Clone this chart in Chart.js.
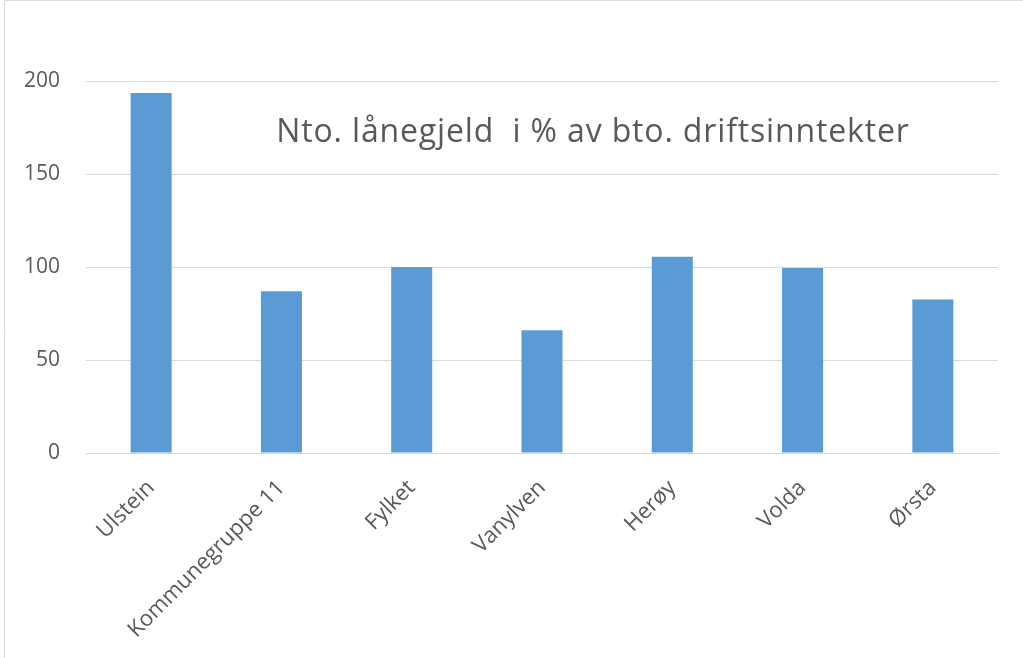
<!DOCTYPE html>
<html lang="no">
<head>
  <meta charset="UTF-8">
  <title>Nto. lånegjeld</title>
  <script src="https://cdn.jsdelivr.net/npm/chart.js"></script>
  <style>
    html, body { margin: 0; padding: 0; background: #fff; }
    #wrap { width: 1023px; height: 658px; }
  </style>
</head>
<body>
  <div id="wrap"><canvas id="barChart"></canvas></div>

  <script>
    const kategorier = ['Ulstein', 'Kommunegruppe 11', 'Fylket', 'Vanylven', 'Herøy', 'Volda', 'Ørsta'];
    const verdier = [193.5, 87, 100, 66, 105.5, 99.5, 82.5];
    const tittel = 'Nto. lånegjeld  i % av bto. driftsinntekter';

    const font = "'Open Sans', 'Noto Sans', sans-serif";

    // ramme rundt figuren + tittel inne i plottet
    const ekstra = {
      id: 'ekstra',
      beforeDraw(chart) {
        const ctx = chart.ctx;
        ctx.save();
        ctx.strokeStyle = '#d9d9d9';
        ctx.lineWidth = 1;
        ctx.beginPath();
        ctx.moveTo(4.5, 658);
        ctx.lineTo(4.5, 0.5);
        ctx.lineTo(1023, 0.5);
        ctx.stroke();
        ctx.restore();
      },
      afterDraw(chart) {
        const ctx = chart.ctx;
        ctx.save();
        ctx.font = '32px ' + font;
        ctx.letterSpacing = '0.85px';
        ctx.fillStyle = '#595959';
        ctx.textAlign = 'center';
        ctx.textBaseline = 'middle';
        ctx.fillText(tittel, 593, 133);
        ctx.restore();
      }
    };

    new Chart(document.getElementById('barChart'), {
      type: 'bar',
      data: {
        labels: kategorier,
        datasets: [{
          data: verdier,
          backgroundColor: '#5b9bd5',
          barPercentage: 0.315,
          categoryPercentage: 1
        }]
      },
      options: {
        responsive: true,
        maintainAspectRatio: false,
        animation: false,
        layout: { padding: { top: 81, right: 25, left: 0, bottom: 0 } },
        plugins: {
          legend: { display: false },
          tooltip: { enabled: false }
        },
        scales: {
          x: {
            grid: { display: false },
            border: { display: true, color: '#d9d9d9' },
            ticks: {
              color: '#595959',
              font: { family: font, size: 22 },
              minRotation: 45,
              maxRotation: 45,
              padding: 14
            },
            afterFit(s) { s.height = 205; }
          },
          y: {
            min: 0,
            max: 200,
            grid: { color: '#d9d9d9', drawTicks: false },
            border: { display: false },
            ticks: {
              stepSize: 50,
              color: '#595959',
              font: { family: font, size: 21 },
              padding: 26
            },
            afterFit(s) { s.width = 86; }
          }
        }
      },
      plugins: [ekstra]
    });
  </script>
</body>
</html>
